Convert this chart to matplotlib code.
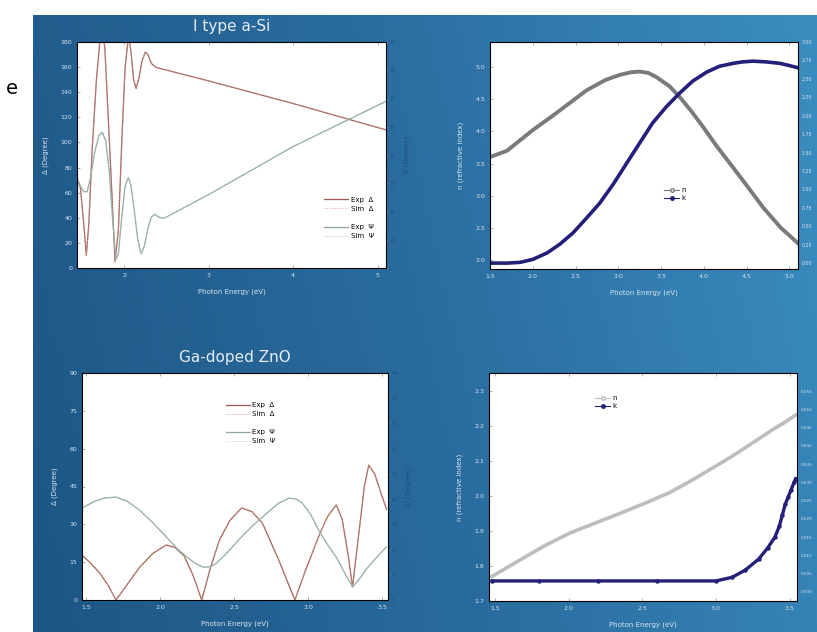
import numpy as np
import matplotlib
matplotlib.use("Agg")
import matplotlib.pyplot as plt
import matplotlib.ticker as mticker
from matplotlib.lines import Line2D
from matplotlib.colors import LinearSegmentedColormap

# ---------------- data ----------------
# Panel 1: I type a-Si, ellipsometry (Delta on left axis, Psi on right axis)
asi_E = [1.45, 1.48, 1.52, 1.55, 1.58, 1.62, 1.67, 1.71, 1.74, 1.77, 1.81, 1.86, 1.89, 1.93, 1.97,
         2.01, 2.05, 2.08, 2.11, 2.14, 2.17, 2.21, 2.25, 2.28, 2.32, 2.37, 2.42, 3.0, 4.0, 5.1]
asi_delta = [70, 64, 35, 10, 35, 95, 150, 180, 188, 175, 120, 50, 5, 30, 100,
             160, 185, 172, 150, 143, 150, 165, 172, 170, 163, 160, 159, 149, 131, 110]
asi_psi_E = [1.45, 1.48, 1.52, 1.56, 1.60, 1.65, 1.70, 1.74, 1.78, 1.82, 1.86, 1.90, 1.93, 1.97,
             2.01, 2.05, 2.08, 2.12, 2.16, 2.20, 2.24, 2.28, 2.32, 2.36, 2.41, 2.47, 3.0, 4.0, 5.1]
asi_psi = [31, 29, 27, 27, 32, 41, 47, 48, 45, 35, 18, 3, 5, 18,
           29, 32, 29, 20, 10, 5, 8, 14, 18, 19, 18, 17.6, 26, 43, 59]

# Panel 2: a-Si optical constants
nk_E = [1.5, 1.7, 1.85, 2.0, 2.24, 2.45, 2.63, 2.85, 3.02, 3.15, 3.25, 3.35, 3.45, 3.6, 3.72,
        3.85, 3.99, 4.15, 4.34, 4.5, 4.69, 4.9, 5.1]
nk_n = [3.60, 3.70, 3.86, 4.02, 4.25, 4.46, 4.64, 4.80, 4.88, 4.92, 4.93, 4.91, 4.84, 4.70, 4.53,
        4.32, 4.07, 3.77, 3.44, 3.16, 2.82, 2.50, 2.26]
k_E = [1.5, 1.7, 1.85, 2.0, 2.17, 2.32, 2.47, 2.62, 2.78, 2.94, 3.10, 3.25, 3.40, 3.56, 3.72,
       3.87, 4.03, 4.18, 4.34, 4.45, 4.57, 4.73, 4.89, 5.0, 5.1]
k_k = [0.0, 0.0, 0.01, 0.05, 0.14, 0.26, 0.41, 0.60, 0.81, 1.07, 1.36, 1.63, 1.90, 2.12, 2.31,
       2.47, 2.59, 2.67, 2.71, 2.73, 2.74, 2.73, 2.71, 2.68, 2.65]

# Panel 3: Ga-doped ZnO, ellipsometry
zno_E = [1.47, 1.53, 1.59, 1.65, 1.70, 1.78, 1.86, 1.95, 2.04, 2.10, 2.16, 2.22, 2.28, 2.34, 2.40,
         2.47, 2.55, 2.62, 2.69, 2.80, 2.91, 2.99, 3.07, 3.13, 3.19, 3.23, 3.27, 3.30, 3.34, 3.38,
         3.41, 3.45, 3.49, 3.53]
zno_delta = [17.8, 14.5, 10.7, 5.5, 0, 6.5, 13, 18.5, 21.8, 20.8, 17.5, 10, 0, 13, 23.8,
             31.5, 36.5, 35, 30.5, 16, 0, 13, 25, 33, 37.7, 32, 18, 5.2, 25, 45,
             53.5, 50, 42.8, 36]
zno_psi_E = [1.47, 1.55, 1.62, 1.70, 1.78, 1.86, 1.95, 2.04, 2.11, 2.18, 2.24, 2.29, 2.34, 2.38,
             2.45, 2.53, 2.62, 2.72, 2.80, 2.87, 2.92, 2.96, 3.02, 3.07, 3.13, 3.19, 3.25, 3.30,
             3.35, 3.39, 3.44, 3.49, 3.53]
zno_psi = [18.2, 19.5, 20.2, 20.4, 19.5, 17.8, 15.3, 12.5, 10.3, 8.5, 7.2, 6.5, 6.6, 7.3,
           9.3, 11.9, 14.6, 17.2, 19.2, 20.2, 20.0, 19.2, 16.8, 13.9, 11.0, 8.5, 5.2, 2.6,
           4.3, 6.0, 7.7, 9.3, 10.5]

# Panel 4: ZnO optical constants
zn_E = [1.48, 1.67, 1.84, 2.01, 2.18, 2.35, 2.52, 2.69, 2.84, 2.98, 3.10, 3.21, 3.30, 3.39, 3.47, 3.54]
zn_n = [1.77, 1.817, 1.858, 1.894, 1.922, 1.95, 1.979, 2.01, 2.045, 2.08, 2.11, 2.14, 2.165, 2.19, 2.21, 2.23]
zk_E = [1.48, 1.8, 2.2, 2.6, 3.0, 3.11, 3.20, 3.29, 3.35, 3.40, 3.43, 3.45, 3.47, 3.49, 3.51, 3.53, 3.54]
zk_k = [0.003, 0.003, 0.003, 0.003, 0.003, 0.004, 0.006, 0.009, 0.012, 0.015, 0.018, 0.021, 0.024,
        0.026, 0.028, 0.030, 0.031]

# ---------------- figure ----------------
W, H = 817, 632
fig = plt.figure(figsize=(W / 100, H / 100), dpi=100)
fig.patch.set_facecolor("white")

def rect(l, r, t, b):
    return [l / W, 1 - b / H, (r - l) / W, (b - t) / H]

# gradient background
bg = fig.add_axes(rect(33, 817, 15, 632))
cmap = LinearSegmentedColormap.from_list("bg", ["#1d5685", "#2a6c9e", "#3b8dc0"])
gx = np.linspace(0, 1, 256)
gy = np.linspace(0, 1, 64)
GX, GY = np.meshgrid(gx, gy)
bg.imshow(0.85 * GX + 0.15 * (1 - GY), cmap=cmap, aspect="auto", extent=[0, 1, 0, 1], origin="upper")
bg.set_axis_off()

fig.text(12 / W, 1 - 88 / H, "e", fontsize=14, color="black", ha="center", va="center")

TICK = "#d5e3ef"
FS = 4.5
RFS = 3.4

def style(ax, right=None):
    ax.set_facecolor("white")
    for s in ax.spines.values():
        s.set_color("#c0d2e2")
        s.set_linewidth(0.6)
    ax.tick_params(axis="both", direction="in", length=2, width=0.5, colors="#8a8a8a",
                   labelcolor=TICK, labelsize=FS, top=True)
    ax.tick_params(axis="y", right=False)
    if right is not None:
        right.tick_params(axis="y", direction="out", length=1.5, width=0.5, colors="#8a8a8a",
                          labelsize=RFS, pad=1)

DCOL = "#9c5a4e"
DSIM = "#dba395"
PCOL = "#8fa596"
PSIM = "#a8d0d0"

# ---- Panel 1 ----
ax1 = fig.add_axes(rect(77, 386, 42, 268))
ax1r = ax1.twinx()
ax1.plot(asi_E, asi_delta, color=DCOL, lw=0.9)
ax1.plot(asi_E, asi_delta, color=DSIM, lw=0.7, ls=":")
ax1r.plot(asi_psi_E, asi_psi, color=PCOL, lw=0.9)
ax1r.plot(asi_psi_E, asi_psi, color=PSIM, lw=0.7, ls=":")
ax1.set_xlim(1.44, 5.1)
ax1.set_ylim(0, 180)
ax1.set_yticks(range(0, 181, 20))
ax1.set_xticks([2, 3, 4, 5])
ax1r.set_ylim(0, 80)
ax1r.set_yticks(range(0, 81, 10))
style(ax1, ax1r)
ax1r.tick_params(axis="y", labelcolor="#1e4f86")
ax1.set_xlabel("Photon Energy (eV)", fontsize=5, color=TICK, labelpad=8)
ax1.set_ylabel("Δ (Degree)", fontsize=5, color=TICK, labelpad=8)
ax1r.set_ylabel("Ψ (Degree)", fontsize=5, color="#1e4f86", labelpad=6)
ax1.set_title("I type a-Si", fontsize=11, color="#e4edf5", pad=8)
h = [Line2D([], [], color=DCOL, lw=0.9), Line2D([], [], color=DSIM, lw=0.7, ls=":"),
     Line2D([], [], color="none"),
     Line2D([], [], color=PCOL, lw=0.9), Line2D([], [], color=PSIM, lw=0.7, ls=":")]
ax1r.legend(h, ["Exp  Δ", "Sim  Δ", " ", "Exp  Ψ", "Sim  Ψ"], loc="lower right",
            bbox_to_anchor=(0.98, 0.1), frameon=False, fontsize=5, handlelength=3.5,
            labelspacing=0.45, handletextpad=0.3)

# ---- Panel 2 ----
ax2 = fig.add_axes(rect(490, 798, 42, 269))
ax2r = ax2.twinx()
ax2.plot(nk_E, nk_n, color="#7a7a7a", lw=2.8)
ax2r.plot(k_E, k_k, color="#24207a", lw=2.6)
ax2.set_xlim(1.5, 5.1)
ax2.set_ylim(1.86, 5.39)
ax2.set_yticks([2.0, 2.5, 3.0, 3.5, 4.0, 4.5, 5.0])
ax2.set_xticks([1.5, 2.0, 2.5, 3.0, 3.5, 4.0, 4.5, 5.0])
ax2r.set_ylim(-0.08, 3.0)
ax2r.set_yticks(np.arange(0, 3.01, 0.25))
ax2r.yaxis.set_major_formatter(mticker.FormatStrFormatter("%.2f"))
style(ax2, ax2r)
ax2r.tick_params(axis="y", labelcolor=TICK)
ax2.set_xlabel("Photon Energy (eV)", fontsize=5, color=TICK, labelpad=8)
ax2.set_ylabel("n (refractive index)", fontsize=5, color=TICK, labelpad=8)
h2 = [Line2D([], [], color="#7a7a7a", lw=0.8, marker="o", ms=2.5, mfc="white"),
      Line2D([], [], color="#24207a", lw=0.8, marker="o", ms=2.5)]
ax2r.legend(h2, ["n", "k"], loc="center", bbox_to_anchor=(0.6, 0.33), frameon=False,
            fontsize=5, handlelength=2.2, labelspacing=0.3, handletextpad=0.3)

# ---- Panel 3 ----
ax3 = fig.add_axes(rect(82, 388, 373, 600))
ax3r = ax3.twinx()
ax3.plot(zno_E, zno_delta, color=DCOL, lw=0.9)
ax3.plot(zno_E, zno_delta, color=DSIM, lw=0.7, ls=":")
ax3r.plot(zno_psi_E, zno_psi, color=PCOL, lw=0.9)
ax3r.plot(zno_psi_E, zno_psi, color=PSIM, lw=0.7, ls=":")
ax3.set_xlim(1.47, 3.54)
ax3.set_ylim(0, 90)
ax3.set_yticks(range(0, 91, 15))
ax3.set_xticks([1.5, 2.0, 2.5, 3.0, 3.5])
ax3r.set_ylim(0, 45)
ax3r.set_yticks(range(0, 46, 5))
style(ax3, ax3r)
ax3r.tick_params(axis="y", labelcolor="#1e4f86")
ax3.set_xlabel("Photon Energy (eV)", fontsize=5, color=TICK, labelpad=8)
ax3.set_ylabel("Δ (Degree)", fontsize=5, color=TICK, labelpad=8)
ax3r.set_ylabel("Ψ (Degree)", fontsize=5, color="#1e4f86", labelpad=6)
ax3.set_title("Ga-doped ZnO", fontsize=11, color="#e4edf5", pad=8)
ax3r.legend(h, ["Exp  Δ", "Sim  Δ", " ", "Exp  Ψ", "Sim  Ψ"], loc="upper center",
            bbox_to_anchor=(0.55, 0.9), frameon=False, fontsize=5, handlelength=3.5,
            labelspacing=0.45, handletextpad=0.3)

# ---- Panel 4 ----
ax4 = fig.add_axes(rect(489, 797, 373, 601))
ax4r = ax4.twinx()
ax4.plot(zn_E, zn_n, color="#bdbdbd", lw=2.6)
ax4r.plot(zk_E, zk_k, color="#24207a", lw=2.4, marker="o", ms=2.2, mfc="#24207a", mec="#24207a")
ax4.set_xlim(1.46, 3.55)
ax4.set_ylim(1.7, 2.35)
ax4.set_yticks([1.7, 1.8, 1.9, 2.0, 2.1, 2.2, 2.3])
ax4.set_xticks([1.5, 2.0, 2.5, 3.0, 3.5])
ax4r.set_ylim(-0.0025, 0.06)
ax4r.set_yticks(np.arange(0, 0.0551, 0.005))
ax4r.yaxis.set_major_formatter(mticker.FormatStrFormatter("%.3f"))
style(ax4, ax4r)
ax4r.tick_params(axis="y", labelcolor=TICK, labelsize=3.0)
ax4.set_xlabel("Photon Energy (eV)", fontsize=5, color=TICK, labelpad=8)
ax4.set_ylabel("n (refractive index)", fontsize=5, color=TICK, labelpad=8)
h4 = [Line2D([], [], color="#bdbdbd", lw=0.8, marker="o", ms=2.5, mfc="white"),
      Line2D([], [], color="#24207a", lw=0.8, marker="o", ms=2.5)]
ax4r.legend(h4, ["n", "k"], loc="upper center", bbox_to_anchor=(0.38, 0.93), frameon=False,
            fontsize=5, handlelength=2.2, labelspacing=0.3, handletextpad=0.3)

fig.savefig("out.png", dpi=100)
